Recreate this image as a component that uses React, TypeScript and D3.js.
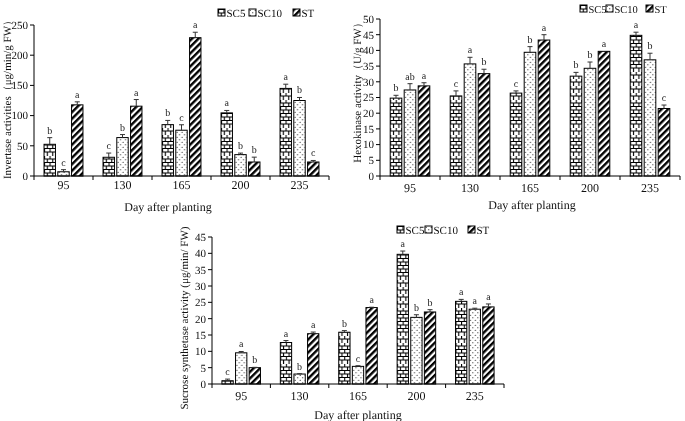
import React from "react";
import * as d3 from "d3";

const days = ["95", "130", "165", "200", "235"];
const seriesNames = ["SC5", "SC10", "ST"];

// Invertase activities
const invSC5 = [52.5, 31, 85, 104.5, 145];
const invSC10 = [7, 63.6, 75.8, 35.4, 125];
const invST = [117.8, 115.6, 229, 23.2, 23.2];
const invSC5Err = [11, 7, 7, 4, 7];
const invSC10Err = [3.5, 5, 9, 2.5, 5];
const invSTErr = [5, 11, 9, 8, 2.5];
const invLetters = [["b", "c", "a"], ["c", "b", "a"], ["b", "c", "a"], ["a", "b", "b"], ["a", "b", "c"]];
const invTicks = [0, 50, 100, 150, 200, 250];

// Hexokinase activity
const hexSC5 = [24.8, 25.5, 26.4, 31.8, 44.8];
const hexSC10 = [27.4, 35.7, 39.4, 34.3, 37];
const hexST = [28.7, 32.6, 43.3, 39.7, 21.5];
const hexSC5Err = [0.9, 1.6, 0.7, 1.2, 1];
const hexSC10Err = [2, 2.1, 1.8, 2, 2.1];
const hexSTErr = [1, 1.4, 1.7, 0, 1.1];
const hexLetters = [["b", "ab", "a"], ["c", "a", "b"], ["c", "b", "a"], ["b", "b", "a"], ["a", "b", "c"]];
const hexTicks = [0, 5, 10, 15, 20, 25, 30, 35, 40, 45, 50];

// Sucrose synthetase activity
const susSC5 = [1.0, 12.7, 15.85, 39.7, 25.3];
const susSC10 = [9.55, 3.05, 5.4, 20.4, 22.9];
const susST = [5.0, 15.4, 23.4, 22.05, 23.6];
const susSC5Err = [0.5, 0.6, 0.5, 1, 0.6];
const susSC10Err = [0.4, 0.1, 0.2, 0.8, 0.3];
const susSTErr = [0.1, 0.5, 0.1, 0.7, 0.9];
const susLetters = [["c", "a", "b"], ["a", "b", "a"], ["b", "c", "a"], ["a", "b", "b"], ["a", "a", "a"]];
const susTicks = [0, 5, 10, 15, 20, 25, 30, 35, 40, 45];

const FONT = "'Liberation Serif', 'Times New Roman', serif";
const fills = ["url(#brick)", "url(#dots)", "url(#stripes)"];

type PanelProps = {
  values: number[][];
  errs: number[][];
  letters: string[][];
  ticks: number[];
  x0: number;
  x1: number;
  y0: number;
  yTop: number;
  yLabel: string;
  yLabelX: number;
  yLabelY: number;
  xTitleX: number;
  xTitleY: number;
  tickDy: number;
  legendX: number[];
  legendY: number;
  legendFont: number;
};

function Panel(p: PanelProps) {
  const maxT = p.ticks[p.ticks.length - 1];
  const y = d3.scaleLinear().domain([0, maxT]).range([p.y0, p.yTop]);
  const xb = d3.scaleBand<string>().domain(days).range([p.x0, p.x1]).padding(0);
  const bw = xb.bandwidth();
  const xs = d3
    .scaleBand<string>()
    .domain(seriesNames)
    .range([bw * 0.17, bw * 0.83])
    .paddingInner(0.17);
  const boundaries = days.map((d) => xb(d) as number).concat([p.x1]);
  return (
    <g>
      {/* bars */}
      {days.map((d, i) => (
        <g key={d} transform={`translate(${xb(d)},0)`}>
          {seriesNames.map((s, j) => {
            const v = p.values[j][i];
            const e = p.errs[j][i];
            const bx = xs(s) as number;
            const w = xs.bandwidth();
            const cx = bx + w / 2;
            const top = y(v);
            const et = y(v + e);
            return (
              <g key={s}>
                <g transform={`translate(${bx},${p.y0})`}>
                  <rect x={0} y={top - p.y0} width={w} height={p.y0 - top} fill={fills[j]} stroke="#000" strokeWidth={1} />
                </g>
                {e > 0 && (
                  <g stroke="#333" strokeWidth={1}>
                    <line x1={cx} x2={cx} y1={top} y2={et} />
                    <line x1={cx - 2.5} x2={cx + 2.5} y1={et} y2={et} />
                  </g>
                )}
                <text x={cx} y={et - 4} textAnchor="middle" fontSize={10} fontFamily={FONT} fill="#222">
                  {p.letters[i][j]}
                </text>
              </g>
            );
          })}
        </g>
      ))}
      {/* y axis */}
      <line x1={p.x0} x2={p.x0} y1={p.y0} y2={p.yTop} stroke="#000" />
      {p.ticks.map((t) => (
        <g key={t}>
          <line x1={p.x0 - 4} x2={p.x0} y1={y(t)} y2={y(t)} stroke="#000" />
          <text x={p.x0 - 6} y={y(t)} dy="0.35em" textAnchor="end" fontSize={11} fontFamily={FONT} fill="#111">
            {t}
          </text>
        </g>
      ))}
      {/* x axis */}
      <line x1={p.x0} x2={p.x1} y1={p.y0} y2={p.y0} stroke="#000" />
      {boundaries.map((b, i) => (
        <line key={i} x1={b} x2={b} y1={p.y0} y2={p.y0 + 4} stroke="#000" />
      ))}
      {days.map((d) => (
        <text
          key={d}
          x={(xb(d) as number) + bw / 2}
          y={p.y0 + p.tickDy}
          textAnchor="middle"
          fontSize={12}
          fontFamily={FONT}
          fill="#111"
        >
          {d}
        </text>
      ))}
      <text x={p.xTitleX} y={p.xTitleY} textAnchor="middle" fontSize={12} fontFamily={FONT} fill="#111">
        Day after planting
      </text>
      <text
        transform={`translate(${p.yLabelX},${p.yLabelY}) rotate(-90)`}
        textAnchor="middle"
        dy="0.35em"
        fontSize={11}
        fontFamily={FONT}
        fill="#111"
      >
        {p.yLabel}
      </text>
      {/* legend */}
      {seriesNames.map((s, j) => (
        <g key={s}>
          <g transform={`translate(${p.legendX[j]},${p.legendY - 4})`}>
            <rect x={0} y={0} width={7} height={7} fill={fills[j]} stroke="#000" strokeWidth={1} />
          </g>
          <text x={p.legendX[j] + 8.5} y={p.legendY} dy="0.35em" fontSize={p.legendFont} fontFamily={FONT} fill="#111">
            {s}
          </text>
        </g>
      ))}
    </g>
  );
}

export default function App() {
  return (
    <svg
      width={685}
      height={421}
      viewBox="0 0 685 421"
      textRendering="geometricPrecision"
      style={{ position: "absolute", left: 0, top: 0, background: "#fff", willChange: "transform" }}
    >
      <defs>
        <pattern id="brick" patternUnits="userSpaceOnUse" width={5.5} height={7}>
          <rect width={5.5} height={7} fill="#fff" />
          <path d="M0,0.5H5.5M0,4H5.5M0.5,0.5V4M3.25,4V7" stroke="#000" strokeWidth={1.1} fill="none" />
        </pattern>
        <pattern id="dots" patternUnits="userSpaceOnUse" width={5} height={5}>
          <rect width={5} height={5} fill="#fff" />
          <circle cx={1.25} cy={1.25} r={0.6} fill="#000" />
          <circle cx={3.75} cy={3.75} r={0.6} fill="#000" />
        </pattern>
        <pattern id="stripes" patternUnits="userSpaceOnUse" width={4.6} height={4.6} patternTransform="rotate(45)">
          <rect width={4.6} height={4.6} fill="#fff" />
          <rect width={2.4} height={4.6} fill="#000" />
        </pattern>
      </defs>
      <Panel
        values={[invSC5, invSC10, invST]}
        errs={[invSC5Err, invSC10Err, invSTErr]}
        letters={invLetters}
        ticks={invTicks}
        x0={34}
        x1={329}
        y0={176}
        yTop={25}
        yLabel="Invertase activities（μg/min/g FW）"
        yLabelX={7}
        yLabelY={97}
        xTitleX={168}
        xTitleY={211}
        tickDy={13}
        legendX={[218, 249, 293]}
        legendY={13}
        legendFont={11}
      />
      <Panel
        values={[hexSC5, hexSC10, hexST]}
        errs={[hexSC5Err, hexSC10Err, hexSTErr]}
        letters={hexLetters}
        ticks={hexTicks}
        x0={380}
        x1={680}
        y0={176}
        yTop={19}
        yLabel="Hexokinase activity（U/g FW）"
        yLabelX={357}
        yLabelY={90}
        xTitleX={532}
        xTitleY={209}
        tickDy={16}
        legendX={[580, 606, 646]}
        legendY={9}
        legendFont={10.5}
      />
      <Panel
        values={[susSC5, susSC10, susST]}
        errs={[susSC5Err, susSC10Err, susSTErr]}
        letters={susLetters}
        ticks={susTicks}
        x0={212}
        x1={504}
        y0={384}
        yTop={237}
        yLabel="Sucrose synthetase activity (μg/min/ FW)"
        yLabelX={184}
        yLabelY={318}
        xTitleX={358}
        xTitleY={419}
        tickDy={16}
        legendX={[397, 425, 468]}
        legendY={230}
        legendFont={11}
      />
    </svg>
  );
}
